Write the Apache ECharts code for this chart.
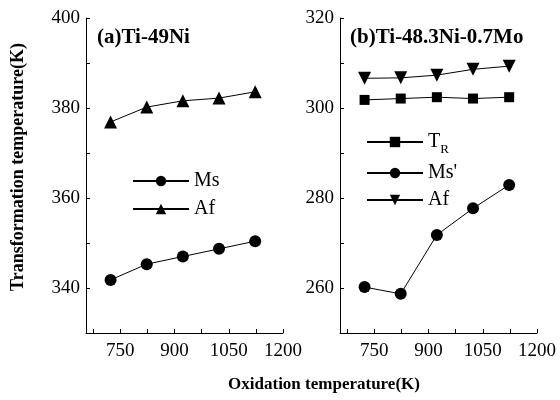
<!DOCTYPE html>
<html>
<head>
<meta charset="utf-8">
<script src="https://cdn.jsdelivr.net/npm/echarts@6/dist/echarts.min.js"></script>
<style>
  html, body { margin: 0; padding: 0; background: #fff; }
  #main { width: 560px; height: 400px; }
</style>
</head>
<body>
<div id="main"></div>
<script>
// oxidation temperatures (K)
const oxTemp = [723, 823, 923, 1023, 1123];
// (a) Ti-49Ni
const msA = [341.8, 345.3, 347.0, 348.7, 350.4];
const afA = [376.9, 380.2, 381.6, 382.2, 383.6];
// (b) Ti-48.3Ni-0.7Mo
const trB = [301.8, 302.1, 302.4, 302.1, 302.4];
const msB = [260.2, 258.7, 271.8, 277.7, 282.9];
const afB = [306.6, 306.7, 307.3, 308.6, 309.3];
// tick labels
const xLabels = [750, 900, 1050, 1200];
const xTicks = [675, 750, 825, 900, 975, 1050, 1125, 1200];

const font = 'Liberation Serif, Times New Roman, serif';
const pairs = (ys) => oxTemp.map((x, i) => [x, ys[i]]);

const myChart = echarts.init(document.querySelector('#main'));

function xAxisOpt(idx) {
  return {
    type: 'value', gridIndex: idx, min: 655, max: 1200,
    axisLine: { lineStyle: { color: '#000', width: 1 } },
    axisTick: { inside: true, length: 4, customValues: xTicks, lineStyle: { color: '#000' } },
    axisLabel: {
      customValues: xLabels, margin: 9, color: '#000', fontFamily: font, fontSize: 19,
      formatter: v => String(v)
    },
    splitLine: { show: false }
  };
}
function yAxisOpt(idx, mn, mx) {
  return {
    type: 'value', gridIndex: idx, min: mn, max: mx, interval: 10,
    axisLine: { show: true, lineStyle: { color: '#000', width: 1 } },
    axisTick: { inside: true, length: 4, lineStyle: { color: '#000' } },
    axisLabel: {
      margin: 6, color: '#000', fontFamily: font, fontSize: 19,
      formatter: v => (v % 20 === 0 ? String(v) : '')
    },
    splitLine: { show: false }
  };
}
function lineSeries(name, idx, ys, symbol, size, rotate) {
  return {
    name: name, type: 'line', xAxisIndex: idx, yAxisIndex: idx,
    data: pairs(ys), symbol: symbol, symbolSize: size, symbolRotate: rotate || 0,
    lineStyle: { color: '#000', width: 1 },
    itemStyle: { color: '#000' },
    animation: false
  };
}

myChart.setOption({
  animation: false,
  title: [
    { text: '(a)Ti-49Ni', left: 92, top: 22, textStyle: { fontFamily: font, fontSize: 21, fontWeight: 'bold', color: '#000' } },
    { text: '(b)Ti-48.3Ni-0.7Mo', left: 345, top: 22, textStyle: { fontFamily: font, fontSize: 21, fontWeight: 'bold', color: '#000' } }
  ],
  grid: [
    { left: 86, top: 18, width: 197, height: 315 },
    { left: 340, top: 18, width: 197, height: 315 }
  ],
  xAxis: [xAxisOpt(0), xAxisOpt(1)],
  yAxis: [yAxisOpt(0, 330, 400), yAxisOpt(1, 250, 320)],
  legend: [
    {
      data: ['Ms', 'Af'], orient: 'vertical', left: 127, top: 166,
      itemWidth: 56, itemHeight: 13, itemGap: 8,
      textStyle: { fontFamily: font, fontSize: 20, color: '#000' }
    },
    {
      data: ['T_R', "Ms'", 'Af '], orient: 'vertical', left: 361, top: 123,
      itemWidth: 56, itemHeight: 13, itemGap: 7,
      formatter: n => (n === 'T_R' ? '{t|T}{s|R}' : n),
      textStyle: {
        fontFamily: font, fontSize: 20, color: '#000',
        rich: {
          t: { fontFamily: font, fontSize: 20, color: '#000', lineHeight: 20 },
          s: { fontFamily: font, fontSize: 13, color: '#000', lineHeight: 20, padding: [15, 0, 0, 0] }
        }
      }
    }
  ],
  graphic: [
    {
      type: 'text', x: 18, y: 167, rotation: Math.PI / 2,
      style: { text: 'Transformation temperature(K)', fontFamily: font, fontSize: 18, fontWeight: 'bold', fill: '#000', align: 'center', verticalAlign: 'middle' }
    },
    {
      type: 'text', x: 324, y: 385,
      style: { text: 'Oxidation temperature(K)', fontFamily: font, fontSize: 17, fontWeight: 'bold', fill: '#000', align: 'center', verticalAlign: 'middle' }
    }
  ],
  series: [
    lineSeries('Ms', 0, msA, 'circle', 12),
    lineSeries('Af', 0, afA, 'triangle', 13),
    lineSeries('T_R', 1, trB, 'rect', 10),
    lineSeries("Ms'", 1, msB, 'circle', 12),
    lineSeries('Af ', 1, afB, 'triangle', 13, 180)
  ]
});
</script>
</body>
</html>
